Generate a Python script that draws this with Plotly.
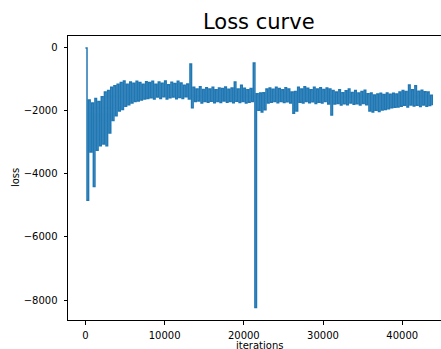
import plotly.graph_objects as go

# Iterations are logged every 200 steps
step = 200
loss = [
    0, -4830, -1650, -3300, -1750, -4400, -1600, -3250, -1700, -3100,
    -1550, -3050, -1400, -3100, -1350, -2700, -1250, -2300, -1200, -2150,
    -1150, -2000, -1100, -1950, -1050, -1850, -1150, -1800, -1080, -1750,
    -1120, -1700, -1060, -1680, -1100, -1650, -1150, -1620, -1070, -1600,
    -1100, -1580, -1060, -1620, -1150, -1560, -1080, -1600, -1120, -1550,
    -1050, -1620, -1170, -1580, -1090, -1560, -1130, -1610, -1060, -1570,
    -1110, -1600, -1180, -1550, -1140, -1620, -510, -1900, -1250, -1700,
    -1300, -1680, -1230, -1750, -1320, -1700, -1260, -1720, -1300, -1690,
    -1250, -1740, -1330, -1700, -1270, -1730, -1290, -1680, -1240, -1720,
    -1310, -1700, -1270, -1740, -1080, -1690, -1300, -1730, -1180, -1700,
    -1280, -1750, -1330, -1720, -1290, -1700, -480, -8240, -1450, -1980,
    -1430, -2030, -1420, -1960, -1300, -1750, -1270, -1720, -1310, -1700,
    -1250, -1740, -1290, -1700, -1330, -1730, -1260, -1710, -1300, -1750,
    -1400, -2070, -1380, -2000, -1250, -1720, -1300, -1750, -1230, -1700,
    -1280, -1740, -1330, -1710, -1250, -1760, -1300, -1720, -1260, -1750,
    -1320, -1700, -1270, -1780, -1300, -2130, -1350, -1780, -1400, -1760,
    -1330, -1810, -1420, -1770, -1360, -1800, -1300, -1750, -1410, -1790,
    -1350, -1770, -1430, -1810, -1380, -1760, -1340, -1800, -1450, -2000,
    -1430, -2030, -1490, -1980, -1460, -2020, -1440, -1970, -1480, -1950,
    -1430, -1930, -1470, -1900, -1440, -1880, -1460, -1870, -1400, -1850,
    -1350, -1820, -1380, -1870, -1175, -1810, -1330, -1840, -1200, -1820,
    -1370, -1860, -1340, -1810, -1390, -1850, -1400, -1830, -1500, -1820,
]
iterations = [i * step for i in range(len(loss))]

x_ticks = [0, 10000, 20000, 30000, 40000]
y_ticks = [0, -2000, -4000, -6000, -8000]

FONT = "DejaVu Sans"

fig = go.Figure()
fig.add_trace(go.Scatter(
    x=iterations, y=loss, mode="lines",
    line=dict(color="#1f77b4", width=1.5, simplify=False, shape="hv"),
    showlegend=False,
))

axis_common = dict(
    showgrid=False, zeroline=False, showline=True, linecolor="black",
    linewidth=1, ticks="outside", ticklen=3.5, tickwidth=1,
    tickcolor="black", tickfont=dict(family=FONT, size=10, color="black"),
)

fig.update_layout(
    width=441, height=349,
    margin=dict(l=68, r=0, t=36, b=29),
    paper_bgcolor="white", plot_bgcolor="white",
    xaxis=dict(range=[-2200, 44900], tickvals=x_ticks,
               ticktext=[str(v) for v in x_ticks], mirror=True,
               ticklabelstandoff=2, **axis_common),
    yaxis=dict(range=[-8635, 380], tickvals=y_ticks,
               ticktext=[str(v).replace("-", "\u2212") for v in y_ticks],
               ticklabelstandoff=4, **axis_common),
    annotations=[
        dict(text="Loss curve", xref="paper", yref="paper", x=0.5134, y=1.05,
             xanchor="center", yanchor="middle", showarrow=False,
             font=dict(family=FONT, size=21, color="black")),
        dict(text="iterations", xref="paper", yref="paper", x=0.5134, y=-0.089,
             xanchor="center", yanchor="middle", showarrow=False,
             font=dict(family=FONT, size=10, color="black")),
        dict(text="loss", xref="paper", yref="paper", x=-0.142, y=0.5,
             xanchor="center", yanchor="middle", showarrow=False, textangle=-90,
             font=dict(family=FONT, size=10, color="black")),
    ],
)

fig.write_html("out.html")
